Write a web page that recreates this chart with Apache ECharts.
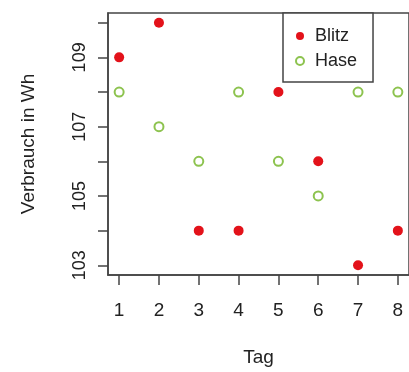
<!DOCTYPE html>
<html>
<head>
<meta charset="utf-8">
<script src="https://cdn.jsdelivr.net/npm/echarts@6/dist/echarts.min.js"></script>
<style>
  html, body { margin: 0; padding: 0; background: #fff; }
  #chart { width: 409px; height: 372px; }
</style>
</head>
<body>
<div id="chart"></div>
<script>
// Tag (x) and Verbrauch in Wh (y)
const days = [1, 2, 3, 4, 5, 6, 7, 8];
const blitz = [109, 110, 104, 104, 108, 106, 103, 104];
const hase = [108, 107, 106, 108, 106, 105, 108, 108];
const yTicks = [103, 104, 105, 106, 107, 108, 109, 110];
const yLabels = [103, 105, 107, 109];

// R style 4% padding around the data range
function pad(lo, hi) {
  const d = (hi - lo) * 0.04;
  return [lo - d, hi + d];
}
const xr = pad(1, 8);
const yr = pad(103, 110);

const font = "'Liberation Sans', Arial, sans-serif";
const ink = "#222";
const lineColor = "#444";
const red = "#e3121a";
const green = "#8dc34f";

let myChart = echarts.init(document.getElementById("chart"), null, { renderer: "canvas" });
let option = {
  animation: false,
  textStyle: { fontFamily: font, color: ink },
  grid: {
    left: 108,
    top: 13,
    width: 304,
    height: 262,
    show: true,
    borderColor: lineColor,
    borderWidth: 1.5
  },
  legend: {
    data: ["Blitz", "Hase"],
    orient: "vertical",
    left: 283,
    top: 13,
    padding: [14, 16, 12, 12],
    itemGap: 7,
    itemWidth: 8,
    itemHeight: 8,
    borderColor: lineColor,
    borderWidth: 1.5,
    backgroundColor: "#fff",
    textStyle: {
      fontFamily: font,
      fontSize: 18,
      lineHeight: 18,
      color: ink,
      padding: [0, 0, 0, 6]
    }
  },
  xAxis: {
    type: "value",
    min: xr[0],
    max: xr[1],
    name: "Tag",
    nameLocation: "middle",
    nameGap: 73,
    nameTextStyle: { fontFamily: font, fontSize: 19, color: ink },
    splitLine: { show: false },
    axisLine: { show: true, lineStyle: { color: lineColor, width: 1.5 } },
    axisTick: {
      show: true,
      length: 10,
      customValues: days,
      lineStyle: { color: lineColor, width: 1.5 }
    },
    axisLabel: {
      customValues: days,
      margin: 26,
      fontFamily: font,
      fontSize: 19,
      color: ink
    }
  },
  yAxis: {
    type: "value",
    min: yr[0],
    max: yr[1],
    name: "Verbrauch in Wh",
    nameLocation: "middle",
    nameGap: 70,
    nameTextStyle: { fontFamily: font, fontSize: 19, color: ink },
    splitLine: { show: false },
    axisLine: { show: true, lineStyle: { color: lineColor, width: 1.5 } },
    axisTick: {
      show: true,
      length: 10,
      customValues: yTicks,
      lineStyle: { color: lineColor, width: 1.5 }
    },
    axisLabel: {
      customValues: yLabels,
      rotate: 90,
      margin: 19,
      fontFamily: font,
      fontSize: 18,
      color: ink
    }
  },
  series: [
    {
      name: "Blitz",
      type: "scatter",
      symbol: "circle",
      symbolSize: 10,
      itemStyle: { color: red, opacity: 1 },
      data: days.map((d, i) => [d, blitz[i]])
    },
    {
      name: "Hase",
      type: "scatter",
      symbol: "emptyCircle",
      symbolSize: 9,
      itemStyle: { color: green, borderColor: green, borderWidth: 2, opacity: 1 },
      data: days.map((d, i) => [d, hase[i]])
    }
  ]
};
myChart.setOption(option);
</script>
</body>
</html>
